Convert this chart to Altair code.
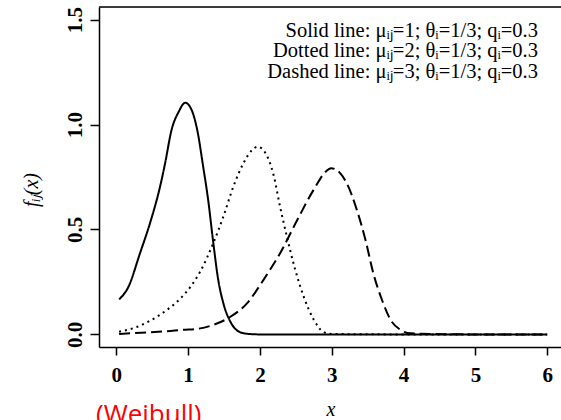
import altair as alt
import pandas as pd

# ---- data ----
solid_x = [0.04, 0.17, 0.33, 0.47, 0.61, 0.68, 0.77, 0.87, 0.96, 1.05, 1.13, 1.21, 1.28, 1.35, 1.42, 1.49, 1.59, 1.69, 1.80, 2.0, 3.0, 4.0, 5.0, 6.0]
solid_y = [0.167, 0.227, 0.386, 0.53, 0.704, 0.815, 0.974, 1.061, 1.104, 1.069, 0.97, 0.80, 0.64, 0.44, 0.26, 0.15, 0.06, 0.017, 0.004, 0.0, 0.0, 0.0, 0.0, 0.0]

dotted_x = [0.04, 0.24, 0.47, 0.70, 0.89, 1.03, 1.17, 1.35, 1.49, 1.63, 1.77, 1.89, 1.97, 2.07, 2.19, 2.28, 2.38, 2.49, 2.61, 2.75, 2.88, 3.0, 4.0, 5.0, 6.0]
dotted_y = [0.013, 0.03, 0.065, 0.115, 0.17, 0.225, 0.30, 0.434, 0.56, 0.704, 0.815, 0.878, 0.894, 0.868, 0.76, 0.61, 0.46, 0.31, 0.18, 0.07, 0.013, 0.002, 0.0, 0.0, 0.0]

dashed_x = [0.04, 0.35, 0.70, 0.94, 1.12, 1.35, 1.59, 1.82, 2.05, 2.28, 2.52, 2.75, 2.93, 2.99, 3.12, 3.21, 3.35, 3.47, 3.58, 3.70, 3.82, 3.96, 4.10, 5.0, 6.0]
dashed_y = [0.002, 0.008, 0.015, 0.022, 0.026, 0.045, 0.084, 0.148, 0.26, 0.386, 0.545, 0.69, 0.78, 0.792, 0.767, 0.72, 0.593, 0.45, 0.29, 0.164, 0.069, 0.021, 0.005, 0.0, 0.0]

series_names = ["Solid", "Dotted", "Dashed"]
x_ticks = [0, 1, 2, 3, 4, 5, 6]
y_ticks = [0.0, 0.5, 1.0, 1.5]

legend_lines = [
    "Solid line: \u03bc\u1d62\u2c7c=1; \u03b8\u1d62=1/3; q\u1d62=0.3",
    "Dotted line: \u03bc\u1d62\u2c7c=2; \u03b8\u1d62=1/3; q\u1d62=0.3",
    "Dashed line: \u03bc\u1d62\u2c7c=3; \u03b8\u1d62=1/3; q\u1d62=0.3",
]
y_title = "f\u1d62\u2c7c(x)"
x_title = "x"
note = "(Weibull)"

rows = []
for name, xs, ys in zip(series_names, [solid_x, dotted_x, dashed_x], [solid_y, dotted_y, dashed_y]):
    for a, b in zip(xs, ys):
        rows.append({"series": name, "x": a, "y": b})
df = pd.DataFrame(rows)

W, H = 462, 340
SERIF = "Liberation Serif"

lines = alt.Chart(df).mark_line(color="black", strokeWidth=2, interpolate="monotone").encode(
    x=alt.X("x:Q", scale=alt.Scale(domain=[-0.24, 6.192], nice=False, zero=False),
            axis=alt.Axis(values=x_ticks, format="d", title=None, grid=False,
                          domainColor="black", domainWidth=1.5, tickColor="black", tickWidth=1.5,
                          tickSize=8, labelFont=SERIF, labelFontSize=21, labelFontWeight="bold",
                          labelColor="black", labelPadding=9)),
    y=alt.Y("y:Q", scale=alt.Scale(domain=[-0.06, 1.56], nice=False, zero=False),
            axis=alt.Axis(values=y_ticks, format=".1f", title=None, grid=False,
                          domainColor="black", domainWidth=1.5, tickColor="black", tickWidth=1.5,
                          tickSize=9, labelFont=SERIF, labelFontSize=21, labelFontWeight="bold",
                          labelColor="black", labelAngle=-90, labelAlign="center",
                          labelBaseline="bottom", labelPadding=5)),
    strokeDash=alt.StrokeDash("series:N",
                              scale=alt.Scale(domain=series_names, range=[[1, 0], [2, 4], [11, 5]]),
                              legend=None),
    detail="series:N",
)

one = alt.Data(values=[{}])
top_rule = alt.Chart(one).mark_rule(color="black", strokeWidth=1.5).encode(
    x=alt.value(0), x2=alt.value(W), y=alt.value(0))

layers = [lines, top_rule]
for i, txt in enumerate(legend_lines):
    layers.append(
        alt.Chart(one).mark_text(font=SERIF, fontSize=20.5, align="right", baseline="alphabetic",
                                 color="black", text=txt)
        .encode(x=alt.value(439), y=alt.value(29.7 + 20.5 * i))
    )

layers.append(
    alt.Chart(one).mark_text(font=SERIF, fontSize=20, fontStyle="italic", angle=270,
                             align="center", baseline="middle", color="black", text=y_title)
    .encode(x=alt.value(-67), y=alt.value(183))
)
layers.append(
    alt.Chart(one).mark_text(font=SERIF, fontSize=20, fontStyle="italic",
                             align="center", baseline="middle", color="black", text=x_title)
    .encode(x=alt.value(232), y=alt.value(403))
)
layers.append(
    alt.Chart(one).mark_text(font="Open Sans", fontSize=26, align="left", baseline="alphabetic",
                             color="#ff0000", text=note)
    .encode(x=alt.value(-3), y=alt.value(416))
)

chart = alt.layer(*layers).properties(
    width=W, height=H,
    autosize=alt.AutoSizeParams(type="none"),
    padding={"left": 99, "top": 7, "right": 0, "bottom": 73},
).configure_view(stroke=None).configure(background="white")

chart.save("out.html", embed_options={"renderer": "svg", "actions": False})
